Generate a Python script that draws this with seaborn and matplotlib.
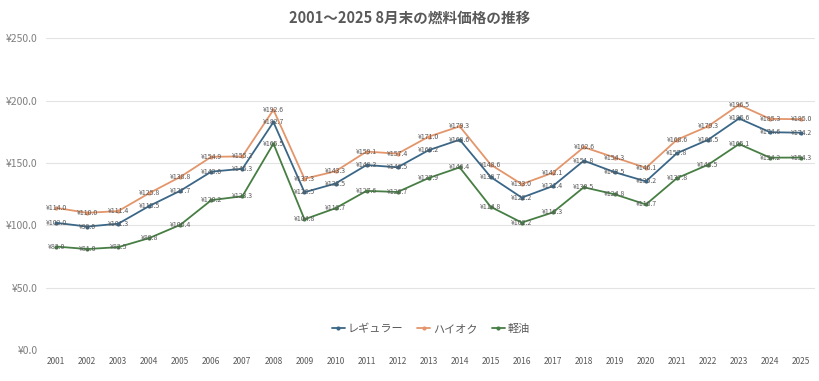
import matplotlib
matplotlib.use("Agg")
import matplotlib.pyplot as plt
import seaborn as sns
import pandas as pd

# data
years = list(range(2001, 2026))
regular = [102.0, 99.0, 101.3, 115.5, 127.7, 143.0, 145.3, 182.7, 126.5, 133.5,
           148.3, 146.5, 160.2, 168.6, 138.7, 122.2, 131.4, 151.8, 142.5, 135.2,
           157.8, 168.5, 185.6, 174.6, 174.2]
high_octane = [114.0, 110.0, 111.4, 125.8, 138.8, 154.9, 155.2, 192.6, 137.3, 143.3,
               159.1, 157.4, 171.0, 179.3, 148.6, 133.0, 142.1, 162.6, 154.3, 146.1,
               168.6, 179.3, 196.5, 185.3, 185.0]
diesel = [83.0, 81.0, 82.5, 89.8, 100.4, 120.2, 123.3, 165.5, 104.8, 113.7,
          127.6, 126.7, 137.9, 146.4, 114.8, 102.2, 110.3, 130.5, 124.8, 116.7,
          137.8, 148.5, 165.1, 154.2, 154.3]
series_names = ["レギュラー", "ハイオク", "軽油"]
colours = ["#3A6787", "#E3956B", "#467E43"]

df = pd.concat([
    pd.DataFrame({"year": years, "price": vals, "kind": name})
    for name, vals in zip(series_names, [regular, high_octane, diesel])
])

sns.set_theme(style="white")
plt.rcParams['font.family'] = ['Noto Sans CJK JP', 'DejaVu Sans']

fig = plt.figure(figsize=(8.2, 3.81), dpi=100)
ax = fig.add_axes([0.056, 0.081, 0.938, 0.819])

sns.lineplot(data=df, x="year", y="price", hue="kind", palette=colours,
             marker="o", markersize=3, markeredgewidth=0, linewidth=1.3, ax=ax)

# data labels centred on each point
for name, col in zip(series_names, colours):
    sub = df[df["kind"] == name]
    for x, y in zip(sub["year"], sub["price"]):
        ax.text(x, y, "¥%.1f" % y, fontsize=5, color="#595959",
                ha="center", va="center")

ax.set_ylim(0, 250)
ax.set_xlim(2000.67, 2025.45)
ax.set_yticks([0, 50, 100, 150, 200, 250])
ax.set_yticklabels(["¥%.1f" % v for v in [0, 50, 100, 150, 200, 250]])
ax.set_xticks(years)
ax.set_xticklabels([str(y) for y in years])
ax.tick_params(axis="y", labelsize=7.5, colors="#7F7F7F", length=0, pad=6)
ax.tick_params(axis="x", labelsize=6, colors="#595959", length=0, pad=5)
ax.grid(axis="y", color="#E3E3E3", linewidth=0.8)
ax.set_axisbelow(True)
for s in ax.spines.values():
    s.set_visible(False)
ax.set_xlabel("")
ax.set_ylabel("")

leg = ax.legend(loc="lower center", bbox_to_anchor=(0.5, 0.02), ncol=3,
                frameon=False, fontsize=8, handlelength=1.2, columnspacing=1.3,
                handletextpad=0.2)
for t in leg.get_texts():
    t.set_color("#595959")

fig.suptitle("2001〜2025 8月末の燃料価格の推移", fontsize=10.5, fontweight="bold",
             color="#595959", y=0.975)

fig.savefig("out.png", dpi=100)
